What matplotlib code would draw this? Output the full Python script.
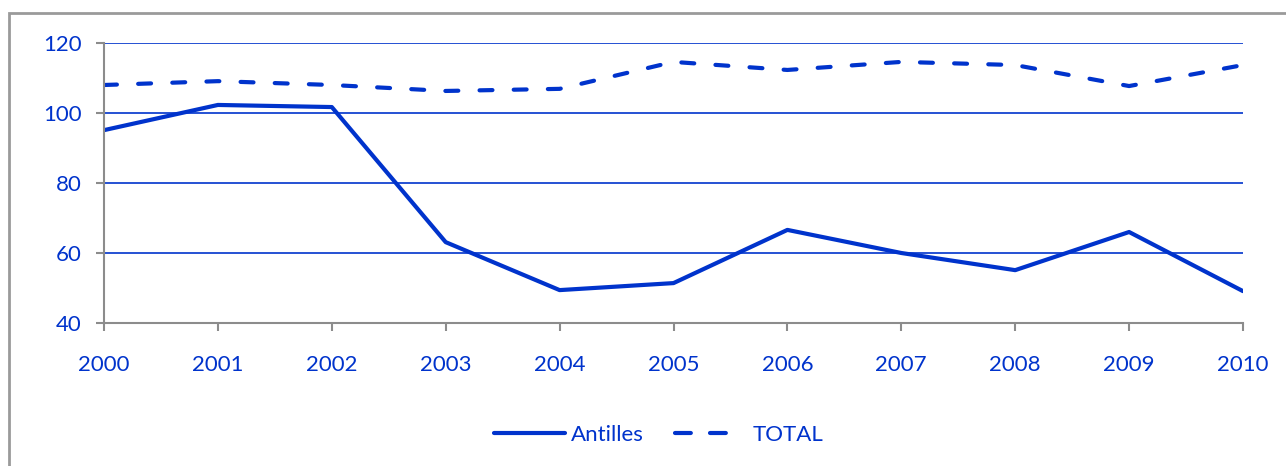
import matplotlib
matplotlib.use("Agg")
import matplotlib.pyplot as plt
from matplotlib.patches import Rectangle
from matplotlib.lines import Line2D

years = [2000, 2001, 2002, 2003, 2004, 2005, 2006, 2007, 2008, 2009, 2010]
antilles = [95.1, 102.3, 101.7, 63.1, 49.4, 51.4, 66.6, 60.0, 55.1, 66.0, 49.1]
total = [108.0, 109.1, 108.0, 106.3, 106.9, 114.6, 112.3, 114.6, 113.7, 107.7, 113.7]
y_ticks = [40, 60, 80, 100, 120]

blue = '#0033CC'
grey = '#8C8C8C'

plt.rcParams['font.family'] = ['Lato', 'DejaVu Sans']

fig = plt.figure(figsize=(12.86, 4.66), dpi=100)
ax = fig.add_axes([104 / 1286, 1 - 323 / 466, (1243 - 104) / 1286, 280 / 466])

# outer frame of the chart area (cropped on the right and bottom)
fig.patches.append(Rectangle((9 / 1286, -0.05), 1.2, 1 - 13 / 466 + 0.05,
                             transform=fig.transFigure, fill=False,
                             edgecolor='#9A9A9A', linewidth=2))

ax.plot(years, antilles, color=blue, linewidth=3, label='Antilles',
        solid_capstyle='round', solid_joinstyle='round')
ax.plot(years, total, color=blue, linewidth=3, label='TOTAL',
        dashes=(3.1, 5.1), dash_capstyle='round')

ax.set_xlim(2000, 2010)
ax.set_ylim(40, 120)
ax.set_xticks(years)
ax.set_yticks(y_ticks)

for y in y_ticks[1:]:
    ax.axhline(y, color=blue, linewidth=1.2, zorder=0)

for side in ['top', 'right']:
    ax.spines[side].set_visible(False)
for side in ['left', 'bottom']:
    ax.spines[side].set_color(grey)
    ax.spines[side].set_linewidth(1.5)

ax.tick_params(axis='both', colors=grey, labelcolor=blue, labelsize=16,
               length=6, width=1.5, direction='out')
ax.tick_params(axis='x', pad=17)
ax.tick_params(axis='y', pad=10)

# legend keys: two dashes for TOTAL as in the original
handles = [
    Line2D([], [], color=blue, linewidth=3, solid_capstyle='round'),
    Line2D([], [], color=blue, linewidth=3, dashes=(3.8, 4.6, 3.8, 20),
           dash_capstyle='round'),
]
ax.legend(handles, ['Antilles', 'TOTAL'], loc='center',
          bbox_to_anchor=(0.487, -0.4), ncol=2, frameon=False,
          fontsize=16, labelcolor=blue, handlelength=3.2, columnspacing=1.4,
          handletextpad=0.3)

fig.savefig('out.png', dpi=100, facecolor='white')
